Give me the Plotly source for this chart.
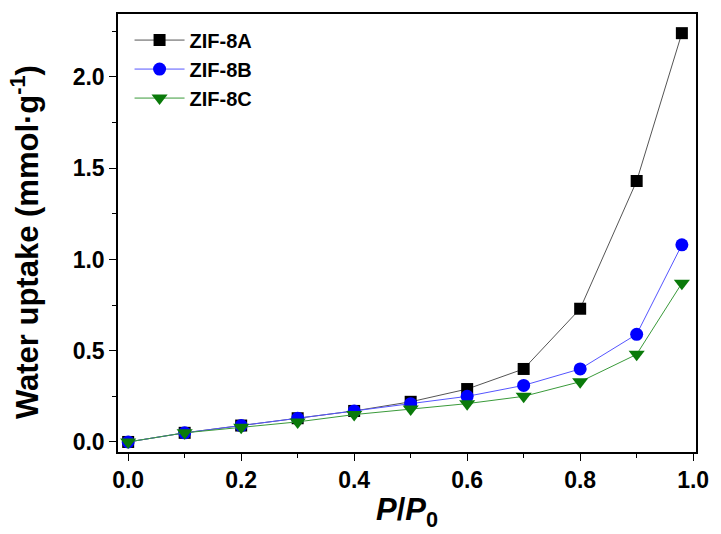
import plotly.graph_objects as go

x = [0.0, 0.1, 0.2, 0.3, 0.4, 0.5, 0.6, 0.7, 0.8, 0.9, 0.98]
zif8a = [0.0, 0.05, 0.09, 0.13, 0.17, 0.22, 0.29, 0.40, 0.73, 1.43, 2.24]
zif8b = [0.0, 0.05, 0.09, 0.13, 0.17, 0.21, 0.25, 0.31, 0.40, 0.59, 1.08]
zif8c = [0.0, 0.05, 0.08, 0.11, 0.15, 0.18, 0.21, 0.25, 0.33, 0.48, 0.87]
x_ticks = [0.0, 0.2, 0.4, 0.6, 0.8, 1.0]
y_ticks = [0.0, 0.5, 1.0, 1.5, 2.0]

font_family = "Liberation Sans, Arial, sans-serif"

fig = go.Figure()
fig.add_trace(go.Scatter(x=x, y=zif8a, name="ZIF-8A", mode="lines+markers",
                         line=dict(color="#555555", width=1),
                         marker=dict(symbol="square", size=12, color="black")))
fig.add_trace(go.Scatter(x=x, y=zif8b, name="ZIF-8B", mode="lines+markers",
                         line=dict(color="#5555ff", width=1),
                         marker=dict(symbol="circle", size=13, color="#0000ff")))
fig.add_trace(go.Scatter(x=x, y=zif8c, name="ZIF-8C", mode="lines+markers",
                         line=dict(color="#3a9a3a", width=1),
                         marker=dict(symbol="triangle-down", size=14, color="#0a7a0a")))

axis_common = dict(showgrid=False, zeroline=False, showline=True, linecolor="black",
                   linewidth=1.5, mirror=True, ticks="outside", ticklen=7, tickwidth=1.2,
                   tickcolor="black",
                   tickfont=dict(family=font_family, size=23, color="black", weight="bold"))

fig.update_xaxes(range=[-0.018, 1.005], tickvals=x_ticks,
                 ticktext=[f"{v:.1f}" for v in x_ticks],
                 minor=dict(dtick=0.1, ticks="outside", ticklen=4, tickcolor="black"),
                 title=dict(text="<b><i>P</i>/<i>P</i><sub>0</sub></b>", standoff=6,
                            font=dict(family=font_family, size=31, color="black")),
                 **axis_common)
fig.update_yaxes(range=[-0.055, 2.345], tickvals=y_ticks,
                 ticktext=[f"{v:.1f}" for v in y_ticks],
                 minor=dict(dtick=0.25, ticks="outside", ticklen=4, tickcolor="black"),
                 **axis_common)

fig.add_annotation(text="<b>Water uptake (mmol·g<sup>-1</sup>)</b>", textangle=-90,
                   xref="paper", yref="paper", x=-0.162, y=0.48,
                   xanchor="center", yanchor="middle", showarrow=False,
                   font=dict(family=font_family, size=31, color="black"))

fig.update_layout(width=721, height=534, plot_bgcolor="white", paper_bgcolor="white",
                  margin=dict(l=118, r=17, t=14, b=82),
                  legend=dict(x=0.02, y=0.985, xanchor="left", yanchor="top",
                              bgcolor="rgba(0,0,0,0)",
                              font=dict(family=font_family, size=20, color="black", weight="bold"),
                              itemwidth=50, tracegroupgap=4))

fig.write_html("out.html")
